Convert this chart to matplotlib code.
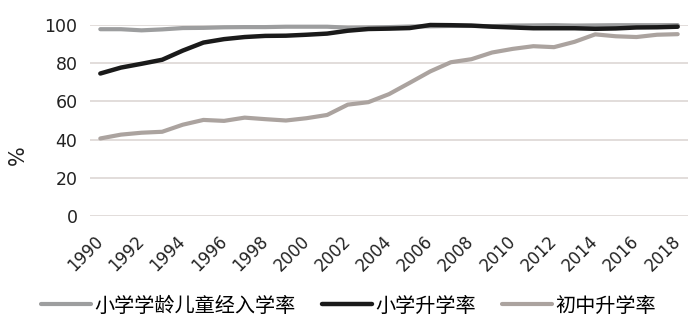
import matplotlib
matplotlib.use("Agg")
import matplotlib.pyplot as plt

years = list(range(1990, 2019))

# 小学学龄儿童经入学率
enroll = [97.8, 97.8, 97.2, 97.7, 98.4, 98.5, 98.8, 98.9, 98.9, 99.1,
          99.1, 99.1, 98.6, 98.7, 98.9, 99.2, 99.3, 99.5, 99.5, 99.4,
          99.7, 99.8, 99.9, 99.7, 99.8, 99.9, 99.9, 99.9, 99.95]
# 小学升学率
primary = [74.6, 77.7, 79.7, 81.8, 86.6, 90.8, 92.6, 93.7, 94.3, 94.4,
           94.9, 95.5, 97.0, 97.9, 98.1, 98.4, 100.0, 99.9, 99.7, 99.1,
           98.7, 98.3, 98.3, 98.3, 98.0, 98.2, 98.7, 98.8, 99.1]
# 初中升学率
junior = [40.6, 42.6, 43.6, 44.1, 47.8, 50.3, 49.8, 51.5, 50.7, 50.0,
          51.2, 52.9, 58.3, 59.6, 63.8, 69.7, 75.7, 80.5, 82.1, 85.6,
          87.5, 88.9, 88.4, 91.2, 95.1, 94.1, 93.7, 94.9, 95.2]

labels = ["小学学龄儿童经入学率", "小学升学率", "初中升学率"]
xticks = list(range(1990, 2019, 2))

plt.rcParams['font.family'] = ['DejaVu Sans', 'Noto Sans CJK SC']

fig = plt.figure(figsize=(7, 3.32), dpi=100)
ax = fig.add_axes([90 / 700, 1 - 216 / 332, 598 / 700, 191 / 332])

ax.plot(years, enroll, color="#9d9e9f", lw=3, label=labels[0], clip_on=False, solid_capstyle="round")
ax.plot(years, primary, color="#1a1a1a", lw=3.2, label=labels[1], clip_on=False, solid_capstyle="round")
ax.plot(years, junior, color="#aba39f", lw=3, label=labels[2], clip_on=False, solid_capstyle="round")

ax.set_xlim(1989.5, 2018.5)
ax.set_ylim(0, 100)
ax.set_yticks(range(0, 101, 20))
ax.set_xticks(xticks)
ax.set_xticklabels([str(y) for y in xticks], rotation=45, ha="right", va="center",
                   rotation_mode="anchor")
ax.tick_params(axis="x", length=0, pad=16, labelsize=12, colors="#222222")
ax.tick_params(axis="y", length=0, pad=9, labelsize=12.5, colors="#222222")
ax.grid(axis="y", color="#ddd7d4", lw=1.2)
ax.set_axisbelow(True)
for s in ax.spines.values():
    s.set_visible(False)

fig.text(18 / 700, 1 - 155 / 332, "%", rotation=90, ha="center", va="center",
         fontsize=15, color="#222222")

fig.legend(loc="center", bbox_to_anchor=(0.498, 1 - 306 / 332), ncol=3, frameon=False,
           prop={"family": ["Noto Sans CJK SC"], "size": 14.5, "weight": "light"},
           handlelength=2.5, handletextpad=0.15, columnspacing=1.3, borderpad=0)

fig.savefig("out.png", dpi=100)
